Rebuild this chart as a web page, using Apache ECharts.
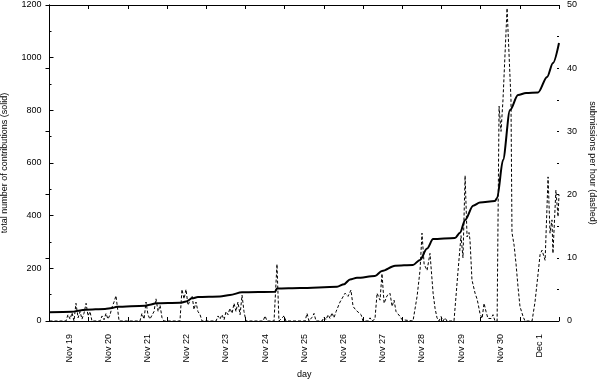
<!DOCTYPE html>
<html>
<head>
<meta charset="utf-8">
<script src="https://cdn.jsdelivr.net/npm/echarts@6/dist/echarts.min.js"></script>
<style>
html,body{margin:0;padding:0;background:#fff;}
#chart{width:598px;height:380px;}
</style>
</head>
<body>
<div id="chart"></div>
<script>
// x values are hours since Nov 18, 12:00
const dayLabels = ['Nov 19','Nov 20','Nov 21','Nov 22','Nov 23','Nov 24','Nov 25','Nov 26','Nov 27','Nov 28','Nov 29','Nov 30','Dec 1'];

const totalHours = [0,13.8,18.7,22.4,34.0,38.3,41.3,58.5,61.5,65.2,79.9,83.6,87.3,90.9,104.4,110.5,117.9,138.1,139.3,153.4,176.1,180.4,184.0,188.3,199.3,203.6,211.6,222.6,226.9,231.2,234.9,248.3,251.4,254.5,259.4,263.6,272.8,274.1,277.7,282.0,286.9,291.8,299.2,304.7,308.3,312.0];
const totalValues = [33,35,40,43,46,49,54,58,62,67,69,74,86,91,93,99,109,111,123,125,130,140,158,164,171,190,210,213,232,275,311,315,335,384,438,450,456,467,611,801,858,866,868,927,980,1056];

const rateHours = [0,10.1,11.3,12.6,13.8,15.0,16.2,17.5,18.7,19.9,21.1,22.4,23.6,24.8,26.0,30.9,32.2,33.4,34.6,35.8,37.1,38.3,39.5,40.7,41.9,42.6,55.4,56.6,57.9,59.1,60.3,61.5,64.0,65.2,66.5,67.7,68.9,70.1,79.9,81.1,82.4,83.6,84.8,86.0,87.3,88.5,89.7,90.9,92.2,93.4,102.0,103.2,104.4,105.6,106.9,108.1,109.3,110.5,111.8,113.0,114.2,115.4,116.7,117.9,119.1,120.3,130.8,132.0,133.2,137.5,139.3,140.5,143.6,144.8,156.5,157.7,158.9,160.8,162.0,163.2,166.9,168.1,169.3,170.6,171.8,173.0,174.2,175.5,176.7,177.9,179.1,181.0,182.8,184.6,185.9,187.7,188.9,190.8,192.0,195.1,196.3,197.5,199.3,200.6,202.4,203.6,204.9,206.7,208.5,209.8,211.0,212.2,213.4,214.7,215.9,217.1,222.6,225.1,226.9,228.1,229.4,231.2,233.0,234.9,236.1,237.3,238.5,239.8,241.0,242.2,243.4,247.7,250.2,252.0,253.2,254.5,255.7,256.9,257.5,258.7,260.6,261.8,262.4,263.6,264.9,266.1,267.3,268.5,270.4,271.6,272.8,274.1,275.3,276.5,277.7,280.2,281.4,282.6,283.2,284.5,285.7,286.9,288.1,290.0,291.2,295.5,297.3,299.2,300.4,301.6,303.5,305.3,306.5,307.7,308.3,310.1,311.4,312.0];
const rateValues = [0,0,1.0,0.3,1.3,0,2.8,0.5,1.5,0.3,1.2,2.8,0.8,1.5,0,0,0.8,0.2,1.2,0.3,1.0,2.2,3.0,4.0,1.5,0,0,1.2,0.3,3.0,1.0,0.3,1.5,3.5,1.5,2.5,0.5,0,0,5.0,3.5,5.0,2.5,3.2,4.0,1.8,3.0,1.5,1.0,0,0,0.8,0.3,1.0,0.2,1.5,1.0,2.0,1.2,2.8,1.5,3.0,1.0,4.1,1.5,0,0,0.8,0,0,9.0,0,0.8,0,0,1.2,0,0.6,1.2,0,0,0.6,0.2,1.0,0.4,1.3,0.5,1.5,1.7,3.0,3.3,4.4,3.9,4.9,2.3,1.7,1.8,1.0,0,0,0.5,0,0.3,4.4,3.3,7.5,2.8,4.0,4.4,2.3,3.3,1.5,1.2,0.7,0.2,0,0,3.9,8.0,13.9,9.0,8.0,10.7,4.4,2.0,0.5,0,0.7,0,0.5,0,0,8.0,13.5,10.0,23.0,13.3,14.0,12.8,6.5,4.4,3.5,2.8,1.2,0.4,2.8,1.5,0.4,0.4,1.0,0,0,34,30,35,49.5,49.5,35,14,12,9,5.4,2.3,0.7,0,0,3,7.5,10.5,11.2,9.6,22.8,13.9,16,10.7,20.7,16.5,20];

const leftTicks = [0,200,400,600,800,1000,1200];
const rightTicks = [0,10,20,30,40,50];

const totalData = totalHours.map((h,i)=>[h,totalValues[i]]);
const rateData = rateHours.map((h,i)=>[h,rateValues[i]]);

const FONT = 'Liberation Sans';
const txt = {fontFamily: FONT, fontSize: 9, color: '#000'};
const lineStyle = {color: '#000', width: 1};

function minorAxis(pos, max, interval) {
  return {
    type: 'value', position: pos, min: 0, max: max, interval: interval,
    axisLine: {show: false},
    axisTick: {show: true, inside: true, length: 2, lineStyle: lineStyle},
    axisLabel: {show: false}, splitLine: {show: false}
  };
}

const chart = echarts.init(document.getElementById('chart'), null, {renderer: 'canvas'});
chart.setOption({
  animation: false,
  backgroundColor: '#fff',
  grid: {left: 49.5, right: 39, top: 5, bottom: 59, containLabel: false, outerBoundsMode: 'none'},
  xAxis: [
    {
      type: 'value', position: 'bottom', min: 0, max: 312, interval: 12,
      axisLine: {show: true, onZero: false, lineStyle: lineStyle},
      axisTick: {show: false},
      splitLine: {show: false},
      axisLabel: Object.assign({
        rotate: 90, margin: 13, showMinLabel: true, showMaxLabel: true,
        formatter: function (v) {
          const k = (v - 12) / 24;
          return (Number.isInteger(k) && k >= 0 && k < dayLabels.length) ? dayLabels[k] : '';
        }
      }, txt),
      name: 'day', nameLocation: 'middle', nameGap: 47,
      nameTextStyle: {fontFamily: FONT, fontSize: 9, color: '#000'}
    },
    {
      type: 'value', position: 'top', min: 0, max: 312, interval: 24,
      axisLine: {show: true, onZero: false, lineStyle: lineStyle},
      axisTick: {show: true, inside: true, length: 4, lineStyle: lineStyle},
      axisLabel: {show: false}, splitLine: {show: false}
    },
    {
      type: 'value', position: 'bottom', min: 0, max: 312, interval: 24,
      axisLine: {show: false, onZero: false},
      axisTick: {show: true, inside: true, length: 4, lineStyle: lineStyle},
      axisLabel: {show: false}, splitLine: {show: false}
    }
  ],
  yAxis: [
    {
      type: 'value', position: 'left', min: leftTicks[0], max: leftTicks[leftTicks.length-1], interval: 200,
      axisLine: {show: true, lineStyle: lineStyle},
      axisTick: {show: true, inside: true, length: 4, lineStyle: lineStyle},
      splitLine: {show: false},
      axisLabel: Object.assign({margin: 8, formatter: function (v) { return String(v); }}, txt),
      name: 'total number of contributions (solid)', nameLocation: 'middle', nameRotate: 90, nameGap: 40,
      nameTextStyle: {fontFamily: FONT, fontSize: 9, color: '#000'}
    },
    {
      type: 'value', position: 'right', min: rightTicks[0], max: rightTicks[rightTicks.length-1], interval: 10,
      axisLine: {show: true, lineStyle: lineStyle},
      axisTick: {show: true, inside: true, length: 4, lineStyle: lineStyle},
      splitLine: {show: false},
      axisLabel: Object.assign({margin: 8, formatter: function (v) { return String(v); }}, txt),
      name: 'submissions per hour (dashed)', nameLocation: 'middle', nameRotate: -90, nameGap: 28,
      nameTextStyle: {fontFamily: FONT, fontSize: 9, color: '#000'}
    },
    minorAxis('left', 1200, 100),
    minorAxis('right', 50, 5)
  ],
  series: [
    {
      name: 'submissions per hour', type: 'line', xAxisIndex: 0, yAxisIndex: 1,
      data: rateData, symbol: 'none', smooth: false,
      lineStyle: {color: '#000', width: 1, type: [3, 2]},
      z: 2
    },
    {
      name: 'total number of contributions', type: 'line', xAxisIndex: 0, yAxisIndex: 0,
      data: totalData, symbol: 'none', smooth: 0.3, smoothMonotone: 'x',
      lineStyle: {color: '#000', width: 2},
      z: 3
    }
  ]
});
</script>
</body>
</html>
